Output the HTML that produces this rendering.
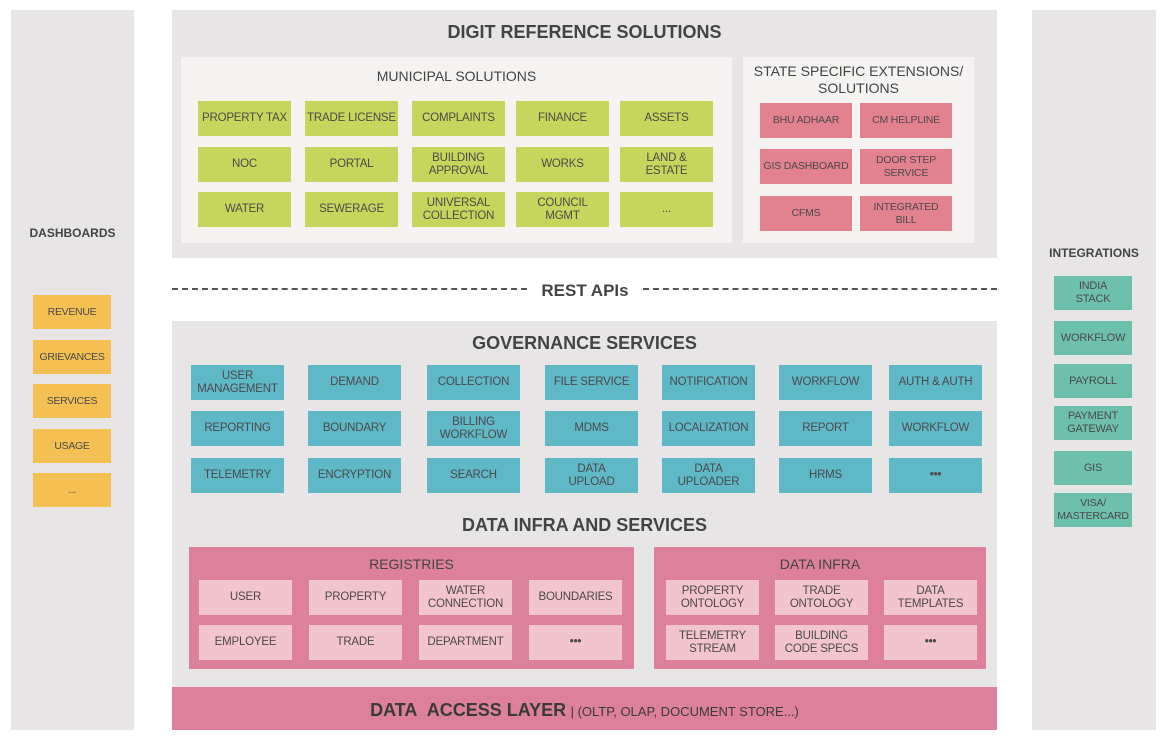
<!DOCTYPE html>
<html><head><meta charset="utf-8"><style>
*{margin:0;padding:0;box-sizing:border-box}
body{width:1166px;height:738px;background:#fff;position:relative;font-family:"Liberation Sans",sans-serif;overflow:hidden;color:#444}
div{position:absolute}
.p{background:#e7e5e5}
.b{display:flex;align-items:center;justify-content:center;text-align:center;font-size:11.5px;line-height:13px;color:#4a4a4a;letter-spacing:-0.2px;white-space:nowrap}
.g{background:#c6d65c;width:93px;height:35px}
.r{background:#e3828f;width:92px;height:35px;font-size:10.5px}
.t{background:#5fb8c6;width:93px;height:35px}
.y{background:#f4c053;width:78px;height:34px;font-size:10.5px;letter-spacing:-0.3px}
.i{background:#6dc0ac;width:78px;height:34px;font-size:11px}
.k{background:#f2c4cc;width:93px;height:35px}
.h{font-weight:bold;text-align:center;color:#444}
</style></head><body>
<div class="p" style="left:11px;top:10px;width:123px;height:720px"></div>
<div class="p" style="left:1032px;top:10px;width:124px;height:720px"></div>
<div class="p" style="left:172px;top:10px;width:825px;height:248px"></div>
<div style="left:181px;top:57px;width:551px;height:186px;background:#f4f3f1"></div>
<div style="left:743px;top:57px;width:231px;height:186px;background:#f4f3f1"></div>
<div class="h" style="left:172px;top:22px;width:825px;font-size:18px">DIGIT REFERENCE SOLUTIONS</div>
<div style="left:181px;top:68px;width:551px;text-align:center;font-size:14px">MUNICIPAL SOLUTIONS</div>
<div style="left:743px;top:63px;width:231px;text-align:center;font-size:14px;line-height:17px">STATE SPECIFIC EXTENSIONS/<br>SOLUTIONS</div>

<div class="b g" style="left:198px;top:101px">PROPERTY TAX</div>
<div class="b g" style="left:305px;top:101px">TRADE LICENSE</div>
<div class="b g" style="left:412px;top:101px">COMPLAINTS</div>
<div class="b g" style="left:516px;top:101px">FINANCE</div>
<div class="b g" style="left:620px;top:101px">ASSETS</div>
<div class="b g" style="left:198px;top:147px">NOC</div>
<div class="b g" style="left:305px;top:147px">PORTAL</div>
<div class="b g" style="left:412px;top:147px">BUILDING<br>APPROVAL</div>
<div class="b g" style="left:516px;top:147px">WORKS</div>
<div class="b g" style="left:620px;top:147px">LAND &amp;<br>ESTATE</div>
<div class="b g" style="left:198px;top:192px">WATER</div>
<div class="b g" style="left:305px;top:192px">SEWERAGE</div>
<div class="b g" style="left:412px;top:192px">UNIVERSAL<br>COLLECTION</div>
<div class="b g" style="left:516px;top:192px">COUNCIL<br>MGMT</div>
<div class="b g" style="left:620px;top:192px">...</div>

<div class="b r" style="left:760px;top:103px">BHU ADHAAR</div>
<div class="b r" style="left:860px;top:103px">CM HELPLINE</div>
<div class="b r" style="left:760px;top:149px">GIS DASHBOARD</div>
<div class="b r" style="left:860px;top:149px">DOOR STEP<br>SERVICE</div>
<div class="b r" style="left:760px;top:196px">CFMS</div>
<div class="b r" style="left:860px;top:196px">INTEGRATED<br>BILL</div>

<div style="left:172px;top:288px;width:355px;border-top:2px dashed #555"></div>
<div style="left:643px;top:288px;width:354px;border-top:2px dashed #555"></div>
<div class="h" style="left:527px;top:281px;width:116px;font-size:17px">REST APIs</div>

<div class="p" style="left:172px;top:321px;width:825px;height:372px"></div>
<div class="h" style="left:172px;top:333px;width:825px;font-size:18px">GOVERNANCE SERVICES</div>
<div class="b t" style="left:191px;top:365px">USER<br>MANAGEMENT</div>
<div class="b t" style="left:308px;top:365px">DEMAND</div>
<div class="b t" style="left:427px;top:365px">COLLECTION</div>
<div class="b t" style="left:545px;top:365px">FILE SERVICE</div>
<div class="b t" style="left:662px;top:365px">NOTIFICATION</div>
<div class="b t" style="left:779px;top:365px">WORKFLOW</div>
<div class="b t" style="left:889px;top:365px">AUTH &amp; AUTH</div>
<div class="b t" style="left:191px;top:411px">REPORTING</div>
<div class="b t" style="left:308px;top:411px">BOUNDARY</div>
<div class="b t" style="left:427px;top:411px">BILLING<br>WORKFLOW</div>
<div class="b t" style="left:545px;top:411px">MDMS</div>
<div class="b t" style="left:662px;top:411px">LOCALIZATION</div>
<div class="b t" style="left:779px;top:411px">REPORT</div>
<div class="b t" style="left:889px;top:411px">WORKFLOW</div>
<div class="b t" style="left:191px;top:458px">TELEMETRY</div>
<div class="b t" style="left:308px;top:458px">ENCRYPTION</div>
<div class="b t" style="left:427px;top:458px">SEARCH</div>
<div class="b t" style="left:545px;top:458px">DATA<br>UPLOAD</div>
<div class="b t" style="left:662px;top:458px">DATA<br>UPLOADER</div>
<div class="b t" style="left:779px;top:458px">HRMS</div>
<div class="b t" style="left:889px;top:458px;font-weight:bold">•••</div>

<div class="h" style="left:172px;top:515px;width:825px;font-size:18px">DATA INFRA AND SERVICES</div>
<div style="left:189px;top:547px;width:445px;height:122px;background:#dd809c"></div>
<div style="left:654px;top:547px;width:332px;height:122px;background:#dd809c"></div>
<div style="left:189px;top:556px;width:445px;text-align:center;font-size:14px">REGISTRIES</div>
<div style="left:654px;top:556px;width:332px;text-align:center;font-size:14px">DATA INFRA</div>
<div class="b k" style="left:199px;top:580px">USER</div>
<div class="b k" style="left:309px;top:580px">PROPERTY</div>
<div class="b k" style="left:419px;top:580px">WATER<br>CONNECTION</div>
<div class="b k" style="left:529px;top:580px">BOUNDARIES</div>
<div class="b k" style="left:199px;top:625px">EMPLOYEE</div>
<div class="b k" style="left:309px;top:625px">TRADE</div>
<div class="b k" style="left:419px;top:625px">DEPARTMENT</div>
<div class="b k" style="left:529px;top:625px;font-weight:bold">•••</div>
<div class="b k" style="left:666px;top:580px">PROPERTY<br>ONTOLOGY</div>
<div class="b k" style="left:775px;top:580px">TRADE<br>ONTOLOGY</div>
<div class="b k" style="left:884px;top:580px">DATA<br>TEMPLATES</div>
<div class="b k" style="left:666px;top:625px">TELEMETRY<br>STREAM</div>
<div class="b k" style="left:775px;top:625px">BUILDING<br>CODE SPECS</div>
<div class="b k" style="left:884px;top:625px;font-weight:bold">•••</div>

<div style="left:172px;top:687px;width:825px;height:43px;background:#dd809c"></div>
<div style="left:172px;top:700px;width:825px;text-align:center;color:#3a3a3a"><b style="font-size:18px">DATA&nbsp; ACCESS LAYER</b> <span style="font-size:13px">| (OLTP, OLAP, DOCUMENT STORE...)</span></div>

<div class="h" style="left:11px;top:226px;width:123px;font-size:12px">DASHBOARDS</div>
<div class="b y" style="left:33px;top:295px">REVENUE</div>
<div class="b y" style="left:33px;top:340px">GRIEVANCES</div>
<div class="b y" style="left:33px;top:384px">SERVICES</div>
<div class="b y" style="left:33px;top:429px">USAGE</div>
<div class="b y" style="left:33px;top:473px">...</div>

<div class="h" style="left:1032px;top:246px;width:124px;font-size:12px">INTEGRATIONS</div>
<div class="b i" style="left:1054px;top:276px">INDIA<br>STACK</div>
<div class="b i" style="left:1054px;top:321px">WORKFLOW</div>
<div class="b i" style="left:1054px;top:364px">PAYROLL</div>
<div class="b i" style="left:1054px;top:406px">PAYMENT<br>GATEWAY</div>
<div class="b i" style="left:1054px;top:451px">GIS</div>
<div class="b i" style="left:1054px;top:493px;font-size:10.5px">VISA/<br>MASTERCARD</div>
</body></html>
